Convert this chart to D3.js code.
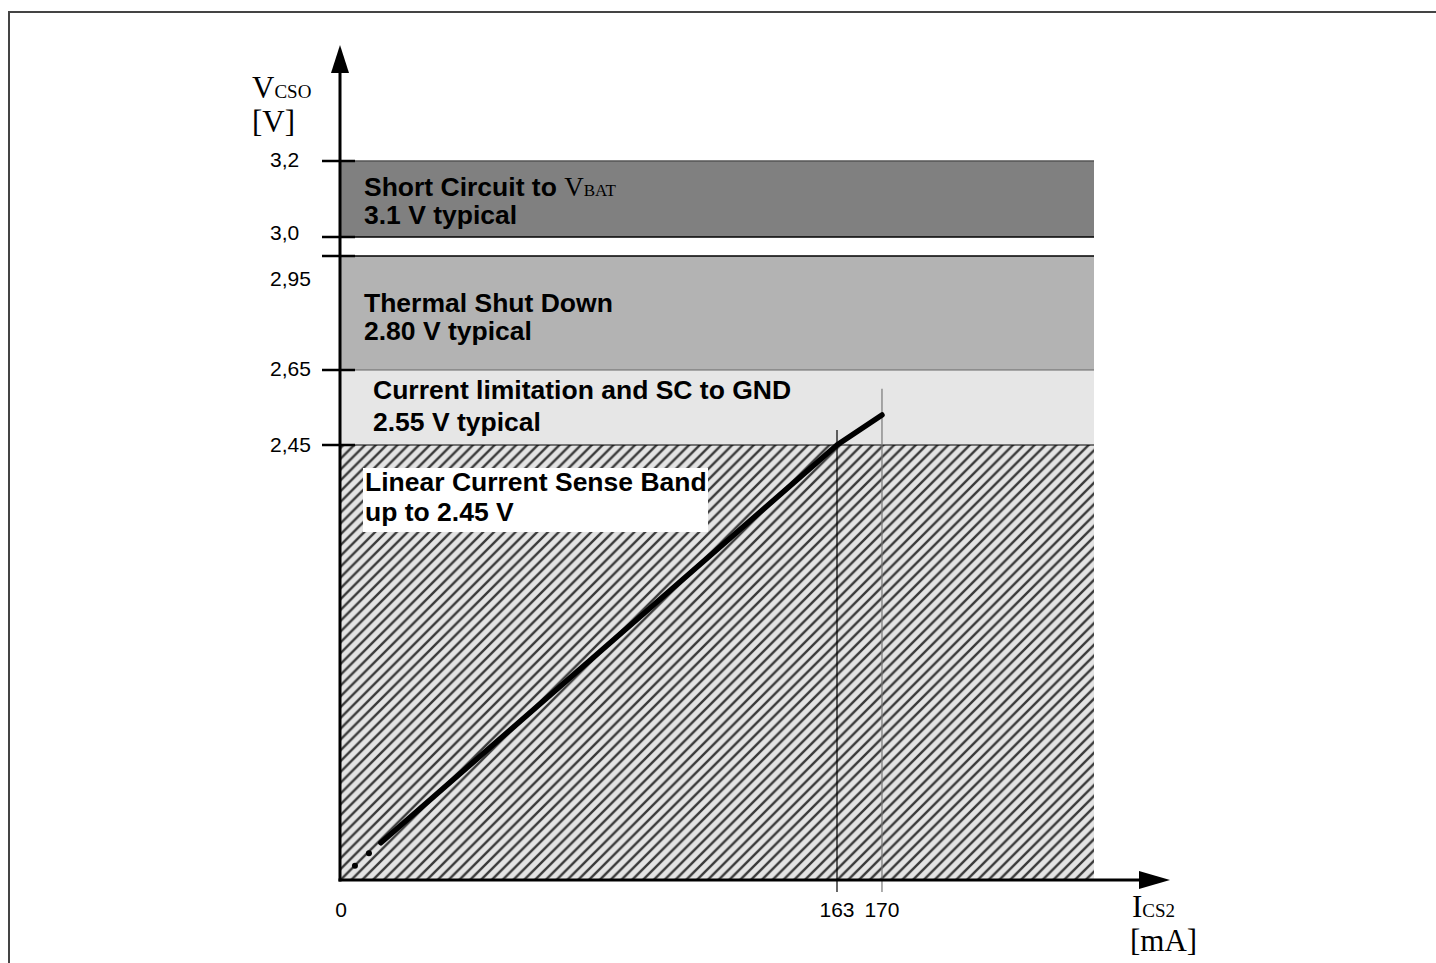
<!DOCTYPE html>
<html>
<head>
<meta charset="utf-8">
<script src="https://cdn.jsdelivr.net/npm/d3@7"></script>
<style>
  html, body { margin: 0; padding: 0; background: #fff; }
  svg { display: block; }
  .tick-label { font-family: "Liberation Sans", Arial, sans-serif; font-size: 21px; fill: #000; }
  .band-text { font-family: "Liberation Sans", Arial, sans-serif; font-size: 26.5px; font-weight: bold; fill: #000; }
  .serif { font-family: "Liberation Serif", "Times New Roman", serif; fill: #000; }
</style>
</head>
<body>
<svg id="chart" width="1436" height="963"></svg>
<script>
// --- données du graphique ---
const yTickValues = [3.2, 3.0, 2.95, 2.65, 2.45];
const yTickLabels = ["3,2", "3,0", "2,95", "2,65", "2,45"];
const xTickValues = [0, 163, 170];
const xTickLabels = ["0", "163", "170"];

const bandNames = ["sc", "thermal", "limit", "linear"];
const bandLow  = [3.0, 2.65, 2.45, 0];
const bandHigh = [3.2, 2.95, 2.65, 2.45];
const bandEndCurrent = 203;

const curveCurrent = [13.4, 163, 170];
const curveVoltage = [0.21, 2.45, 2.53];
const dotCurrent = [4.9, 9.5];
const dotVoltage = [0.08, 0.15];

const markerCurrent = [163, 170];
const markerTop = [2.49, 2.60];

// --- échelles (axes schématiques, non linéaires) ---
const x = d3.scaleLinear()
    .domain([0, 163, bandEndCurrent])
    .range([340, 837, 1094]);

const y = d3.scaleLinear()
    .domain([0, 2.45, 2.65, 2.95, 3.0, 3.2])
    .range([880, 445, 370, 256, 237, 161]);

const bandFill = { sc: "#808080", thermal: "#b3b3b3", limit: "#e6e6e6", linear: "url(#hatch)" };

const svg = d3.select("#chart");

// cadre (haut et gauche seulement)
svg.append("path")
    .attr("d", "M9,963 L9,12 L1436,12")
    .attr("fill", "none")
    .attr("stroke", "#444")
    .attr("stroke-width", 2);

// motif hachuré
const defs = svg.append("defs");
const hs = 10.8;
const pat = defs.append("pattern")
    .attr("id", "hatch")
    .attr("patternUnits", "userSpaceOnUse")
    .attr("width", hs)
    .attr("height", hs);
pat.append("rect").attr("width", hs).attr("height", hs).attr("fill", "#e4e4e4");
pat.append("path")
    .attr("d", `M${-hs / 2},${hs / 2} L${hs / 2},${-hs / 2} M0,${hs} L${hs},0 M${hs / 2},${hs * 1.5} L${hs * 1.5},${hs / 2}`)
    .attr("stroke", "#3a3a3a")
    .attr("stroke-width", 2.4);

// --- bandes ---
const bands = bandNames.map((n, i) => ({ name: n, low: bandLow[i], high: bandHigh[i] }));

svg.append("g").selectAll("rect")
    .data(bands)
    .enter()
    .append("rect")
    .attr("x", x(0))
    .attr("y", d => y(d.high))
    .attr("width", x(bandEndCurrent) - x(0))
    .attr("height", d => y(d.low) - y(d.high))
    .attr("fill", d => bandFill[d.name]);

// lignes de séparation des bandes
const edgeStyle = [
    { v: 3.2, c: "#555", w: 1.5 },
    { v: 3.0, c: "#000", w: 1.5 },
    { v: 2.95, c: "#000", w: 1.5 },
    { v: 2.65, c: "#666", w: 1 },
    { v: 2.45, c: "#000", w: 1.2 }
];
svg.append("g").selectAll("line")
    .data(edgeStyle)
    .enter()
    .append("line")
    .attr("x1", x(0))
    .attr("x2", x(bandEndCurrent))
    .attr("y1", d => y(d.v))
    .attr("y2", d => y(d.v))
    .attr("stroke", d => d.c)
    .attr("stroke-width", d => d.w);

// --- textes des bandes ---
function bandLabel(tx, ty, lines, gap) {
    const t = svg.append("text").attr("class", "band-text");
    lines.forEach((l, i) => {
        t.append("tspan").attr("x", tx).attr("y", ty + i * gap).text(l);
    });
    return t;
}

const sc = svg.append("text").attr("class", "band-text").attr("x", 364).attr("y", 196);
sc.append("tspan").text("Short Circuit to ");
sc.append("tspan").attr("class", "serif").attr("font-weight", "normal").attr("font-size", 27).text("V");
sc.append("tspan").attr("class", "serif").attr("font-weight", "normal").attr("font-size", 17).text("BAT");
svg.append("text").attr("class", "band-text").attr("x", 364).attr("y", 224).text("3.1 V typical");

bandLabel(364, 312, ["Thermal Shut Down", "2.80 V typical"], 28);
bandLabel(373, 399, ["Current limitation and SC to GND", "2.55 V typical"], 32);

svg.append("rect")
    .attr("x", 363).attr("y", 468)
    .attr("width", 345).attr("height", 64)
    .attr("fill", "#fff");
bandLabel(365, 491, ["Linear Current Sense Band", "up to 2.45 V"], 30);

// --- repères verticaux 163 / 170 ---
svg.append("g").selectAll("line")
    .data(markerCurrent.map((c, i) => ({ c: c, top: markerTop[i], i: i })))
    .enter()
    .append("line")
    .attr("x1", d => x(d.c))
    .attr("x2", d => x(d.c))
    .attr("y1", d => y(d.top))
    .attr("y2", y(0) + 12)
    .attr("stroke", d => d.i === 0 ? "#000" : "#777")
    .attr("stroke-width", 1.2);

// --- courbe ---
const curve = curveCurrent.map((c, i) => [c, curveVoltage[i]]);
svg.append("path")
    .datum(curve)
    .attr("d", d3.line().x(d => x(d[0])).y(d => y(d[1])))
    .attr("fill", "none")
    .attr("stroke", "#000")
    .attr("stroke-width", 5.5)
    .attr("stroke-linecap", "round")
    .attr("stroke-linejoin", "round");

svg.append("g").selectAll("circle")
    .data(dotCurrent.map((c, i) => [c, dotVoltage[i]]))
    .enter()
    .append("circle")
    .attr("cx", d => x(d[0]))
    .attr("cy", d => y(d[1]))
    .attr("r", 3)
    .attr("fill", "#000");

// --- axes ---
const axisG = svg.append("g");
axisG.append("line")
    .attr("x1", x(0)).attr("x2", x(0))
    .attr("y1", y(0) + 1.5).attr("y2", 70)
    .attr("stroke", "#000").attr("stroke-width", 3);
axisG.append("path")
    .attr("d", `M${x(0)},45 L${x(0) - 9},73 L${x(0) + 9},73 Z`)
    .attr("fill", "#000");

axisG.append("line")
    .attr("x1", x(0) - 1.5).attr("x2", 1142)
    .attr("y1", y(0)).attr("y2", y(0))
    .attr("stroke", "#000").attr("stroke-width", 3);
axisG.append("path")
    .attr("d", `M1170,${y(0)} L1139,${y(0) - 9} L1139,${y(0) + 9} Z`)
    .attr("fill", "#000");

// graduations Y
axisG.selectAll(".ytick")
    .data(yTickValues)
    .enter()
    .append("line")
    .attr("class", "ytick")
    .attr("x1", 322).attr("x2", 355)
    .attr("y1", d => y(d)).attr("y2", d => y(d))
    .attr("stroke", "#000").attr("stroke-width", 2.5);

const yLabelShift = { 3.2: 6, 3.0: 3, 2.95: 30, 2.65: 6, 2.45: 7 };
axisG.selectAll(".ylab")
    .data(yTickValues)
    .enter()
    .append("text")
    .attr("class", "tick-label")
    .attr("x", 270)
    .attr("y", d => y(d) + yLabelShift[d])
    .text((d, i) => yTickLabels[i]);

// graduations X
axisG.selectAll(".xlab")
    .data(xTickValues)
    .enter()
    .append("text")
    .attr("class", "tick-label")
    .attr("text-anchor", "middle")
    .attr("x", d => x(d) + (d === 0 ? 1 : 0))
    .attr("y", 917)
    .text((d, i) => xTickLabels[i]);

// titres des axes
const yt = svg.append("text").attr("class", "serif").attr("x", 252).attr("y", 98);
yt.append("tspan").attr("font-size", 31).text("V");
yt.append("tspan").attr("font-size", 19).text("CSO");
svg.append("text").attr("class", "serif").attr("x", 252).attr("y", 132).attr("font-size", 31).text("[V]");

const xt = svg.append("text").attr("class", "serif").attr("x", 1132).attr("y", 917);
xt.append("tspan").attr("font-size", 31).text("I");
xt.append("tspan").attr("font-size", 19).text("CS2");
svg.append("text").attr("class", "serif").attr("x", 1130).attr("y", 951).attr("font-size", 31).text("[mA]");
</script>
</body>
</html>
